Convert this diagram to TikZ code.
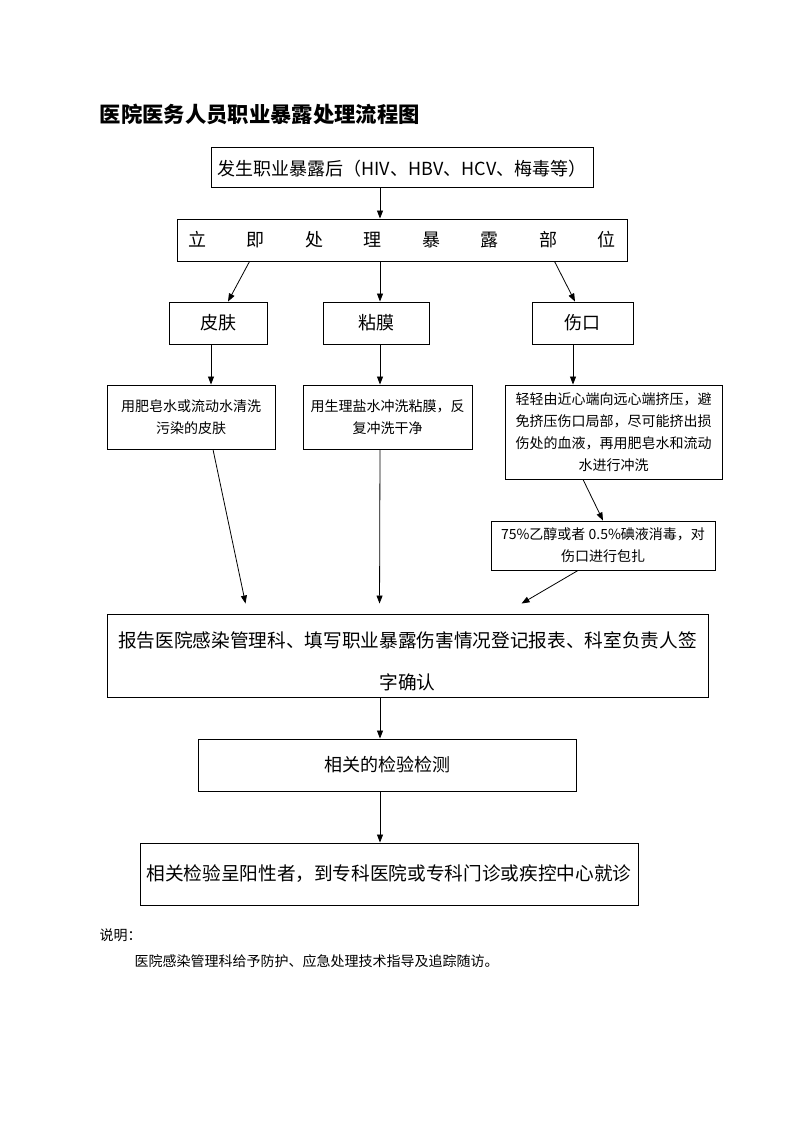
\documentclass[tikz,border=0pt]{standalone}
\usepackage{fontspec}
\setmainfont{Noto Sans CJK SC}
\usetikzlibrary{arrows.meta,calc}
\begin{document}
\begin{tikzpicture}[x=0.75pt,y=-0.75pt,
  box/.style={draw, line width=0.7pt, inner sep=0pt, align=center},
  big/.style={font=\fontsize{13.5}{16}\selectfont},
  small/.style={font=\fontsize{10.5}{16.5}\selectfont},
  arr/.style={-{Triangle[length=6pt,width=4.5pt]}, line width=0.6pt}]
\useasboundingbox (0,0) rectangle (793,1122);
\node[anchor=west, font=\fontsize{16}{18}\selectfont\bfseries] (title) at (95,114) {医院医务人员职业暴露处理流程图};
\node[box, big, minimum width=286.5pt, minimum height=30pt] (b1) at (402,167) {\rule{0pt}{14pt}发生职业暴露后（HIV、HBV、HCV、梅毒等）};
\node[box, big, minimum width=337.5pt, minimum height=31.5pt] (b2) at (402,240) {\makebox[321pt]{立\hfill 即\hfill 处\hfill 理\hfill 暴\hfill 露\hfill 部\hfill 位}};
\node[box, big, minimum width=73.5pt, minimum height=31.5pt] (skin) at (218,323) {皮肤};
\node[box, big, minimum width=79.5pt, minimum height=31.5pt] (muc) at (376,323) {粘膜};
\node[box, big, minimum width=75.75pt, minimum height=31.5pt] (wound) at (582.5,323) {伤口};
\node[box, small, minimum width=126pt, minimum height=48pt] (t1) at (191,417) {用肥皂水或流动水清洗\\污染的皮肤};
\node[box, small, minimum width=126.75pt, minimum height=48pt] (t2) at (387.5,417) {用生理盐水冲洗粘膜，反\\复冲洗干净};
\node[box, small, minimum width=162.75pt, minimum height=70.5pt] (t3) at (613.5,432) {轻轻由近心端向远心端挤压，避\\免挤压伤口局部，尽可能挤出损\\伤处的血液，再用肥皂水和流动\\水进行冲洗};
\node[box, small, minimum width=168pt, minimum height=36.75pt] (t4) at (603,545.5) {75\%乙醇或者 0.5\%碘液消毒，对\\伤口进行包扎};
\node[box, font=\fontsize{14}{31.5}\selectfont, minimum width=450.75pt, minimum height=62.25pt] (rep) at (407.5,655.5) {\rule{0pt}{21pt}报告医院感染管理科、填写职业暴露伤害情况登记报表、科室负责人签\\字确认};
\node[box, big, minimum width=283.5pt, minimum height=39pt] (test) at (387,765) {相关的检验检测};
\node[box, font=\fontsize{14}{16}\selectfont, minimum width=373.5pt, minimum height=46.5pt] (final) at (389,874) {相关检验呈阳性者，到专科医院或专科门诊或疾控中心就诊};
\node[anchor=west, font=\fontsize{10.5}{12}\selectfont] (note1) at (95,935) {说明：};
\node[anchor=west, font=\fontsize{10.5}{12}\selectfont] (note2) at (130,961) {医院感染管理科给予防护、应急处理技术指导及追踪随访。};
% connectors
\draw[arr] ($(b1.south)+(-22,0)$) -- ($(b2.north)+(-22,0)$);
\draw[arr] ($(b2.south west)+(73,0)$) -- ($(skin.north)+(10,0)$);
\draw[arr] ($(b2.south)+(-22,0)$) -- ($(muc.north)+(4,0)$);
\draw[arr] ($(b2.south west)+(378,0)$) -- ($(wound.north)+(-7.5,0)$);
\draw[arr] ($(skin.south)+(-7,0)$) -- ($(t1.north)+(20,0)$);
\draw[arr] ($(muc.south)+(4,0)$) -- ($(t2.north)+(-7.5,0)$);
\draw[arr] ($(wound.south)+(-9.5,0)$) -- ($(t3.north)+(-40.5,0)$);
\draw[arr] ($(t3.south)+(-30.5,0)$) -- (t4.north);
\draw[arr] ($(t1.south)+(22,0)$) -- ($(rep.north west)+(139,-10)$);
\draw[arr] ($(t2.south)+(-7.5,0)$) -- ($(rep.north west)+(273,-10)$);
\draw[arr] ($(t4.south)+(-25,0)$) -- ($(rep.north west)+(415,-10)$);
\draw[arr] ($(rep.south)+(-27.5,0)$) -- ($(test.north)+(-7,0)$);
\draw[arr] ($(test.south)+(-7,0)$) -- ($(final.north)+(-9,0)$);
\end{tikzpicture}
\end{document}
